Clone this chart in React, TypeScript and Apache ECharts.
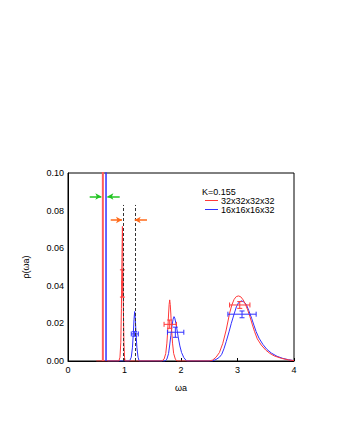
import React, { useEffect, useRef } from "react";
import * as echarts from "echarts";

// tick labels
const xTicks = [0, 1, 2, 3, 4];
const yTicks = [0, 0.02, 0.04, 0.06, 0.08, 0.1];

// legend names
const redName = "32x32x32x32";
const blueName = "16x16x16x32";
const kLabel = "K=0.155";

// spectral function, 32x32x32x32 (red)
const redCurve: [number, number][] = [
  [0.5, 0], [0.9, 0], [0.92, 0.002], [0.935, 0.01], [0.945, 0.028], [0.955, 0.055], [0.963, 0.0716],
  [0.971, 0.055], [0.98, 0.028], [0.99, 0.01], [1.0, 0.002], [1.01, 0],
  [1.66, 0], [1.7, 0.001], [1.73, 0.004], [1.75, 0.0095], [1.765, 0.016], [1.78, 0.025], [1.79, 0.03],
  [1.8, 0.0325], [1.81, 0.03], [1.82, 0.025], [1.835, 0.016], [1.85, 0.0095], [1.87, 0.004], [1.9, 0.001], [1.93, 0],
  [2.5, 0], [2.56, 0.0005], [2.62, 0.002], [2.68, 0.0045], [2.74, 0.0094], [2.8, 0.0165], [2.86, 0.0254],
  [2.9, 0.0298], [2.94, 0.0328], [2.98, 0.0343], [3.02, 0.0346], [3.06, 0.0341], [3.1, 0.0325],
  [3.14, 0.0302], [3.18, 0.0272], [3.22, 0.0236], [3.26, 0.0196], [3.3, 0.0158], [3.35, 0.0118],
  [3.42, 0.0085], [3.5, 0.0058], [3.57, 0.0041], [3.65, 0.0027], [3.78, 0.0014], [3.9, 0.0006], [4.0, 0.0002],
];

// spectral function, 16x16x16x32 (blue)
const blueCurve: [number, number][] = [
  [0.7, 0], [1.09, 0], [1.12, 0.002], [1.14, 0.007], [1.155, 0.014], [1.168, 0.022], [1.18, 0.0263],
  [1.192, 0.022], [1.205, 0.014], [1.22, 0.007], [1.24, 0.002], [1.26, 0],
  [1.72, 0], [1.75, 0.001], [1.78, 0.004], [1.8, 0.0085], [1.82, 0.0135], [1.84, 0.0185], [1.86, 0.0222],
  [1.876, 0.0236], [1.89, 0.0228], [1.91, 0.02], [1.93, 0.0165], [1.95, 0.0128], [1.98, 0.008],
  [2.01, 0.0045], [2.05, 0.0018], [2.1, 0],
  [2.55, 0], [2.62, 0.0008], [2.68, 0.002], [2.72, 0.0035], [2.76, 0.0065], [2.8, 0.0103], [2.85, 0.0155],
  [2.89, 0.02], [2.94, 0.025], [2.98, 0.0288], [3.02, 0.0311], [3.07, 0.032], [3.12, 0.0313],
  [3.16, 0.0298], [3.2, 0.0268], [3.25, 0.0227], [3.29, 0.0191], [3.33, 0.0156], [3.38, 0.0122],
  [3.45, 0.0088], [3.52, 0.0062], [3.6, 0.0042], [3.7, 0.0025], [3.8, 0.0014], [3.9, 0.0007], [4.0, 0.0002],
];

// delta-function positions (lowest state)
const redDelta = 0.617;
const blueDelta = 0.673;

// error bars: [x, y, xLow, xHigh, yLow, yHigh]
const redErr = [
  [0.963, 0.0414, 0.955, 0.971, 0.034, 0.0485],
  [1.8, 0.0195, 1.7, 1.92, 0.0174, 0.0218],
  [3.04, 0.0298, 2.86, 3.22, 0.028, 0.0316],
];
const blueErr = [
  [1.18, 0.0144, 1.12, 1.245, 0.0132, 0.0156],
  [1.9, 0.0153, 1.76, 2.05, 0.0126, 0.018],
  [3.08, 0.0249, 2.83, 3.33, 0.023, 0.0266],
];

// arrows: [xFrom, xTo, y]
const greenArrows = [
  [0.384, 0.59, 0.0875],
  [0.915, 0.697, 0.0875],
];
const orangeArrows = [
  [0.756, 0.956, 0.075],
  [1.398, 1.18, 0.075],
];

// dashed markers: x positions, top
const dashedX = [0.973, 1.19];
const dashedTop = 0.083;

const RED = "#ff3838";
const BLUE = "#3030ff";
const GREEN = "#22c422";
const ORANGE = "#ff6a1a";
const FONT = "Liberation Sans, Arial, sans-serif";

function errRender(color: string) {
  return (params: any, api: any) => {
    const y = api.value(1);
    const x = api.value(0);
    const pl = api.coord([api.value(2), y]);
    const pr = api.coord([api.value(3), y]);
    const pb = api.coord([x, api.value(4)]);
    const pt = api.coord([x, api.value(5)]);
    const cap = 2.5;
    const style = { stroke: color, lineWidth: 1 };
    const mk = (x1: number, y1: number, x2: number, y2: number) => ({
      type: "line",
      shape: { x1, y1, x2, y2 },
      style,
    });
    return {
      type: "group",
      children: [
        mk(pl[0], pl[1], pr[0], pr[1]),
        mk(pl[0], pl[1] - cap, pl[0], pl[1] + cap),
        mk(pr[0], pr[1] - cap, pr[0], pr[1] + cap),
        mk(pb[0], pb[1], pt[0], pt[1]),
        mk(pb[0] - cap, pb[1], pb[0] + cap, pb[1]),
        mk(pt[0] - cap, pt[1], pt[0] + cap, pt[1]),
      ],
    };
  };
}

function arrowLines(list: number[][], color: string) {
  return {
    silent: true,
    symbol: ["none", "arrow"],
    symbolSize: [5, 6],
    lineStyle: { color, width: 1.5, type: "solid" },
    label: { show: false },
    data: list.map((a) => [{ coord: [a[0], a[2]] }, { coord: [a[1], a[2]] }]),
  };
}

const LEGEND_ICON = "path://M0,4.5 L13,4.5 L13,5.5 L0,5.5 Z";

export default function App() {
  const ref = useRef<HTMLDivElement>(null);
  useEffect(() => {
    if (!ref.current) return;
    const chart = echarts.init(ref.current, null, { renderer: "svg" });
    chart.setOption({
      animation: false,
      backgroundColor: "#fff",
      textStyle: { fontFamily: FONT },
      title: {
        text: kLabel,
        left: 202,
        top: 187,
        padding: 0,
        textStyle: { fontSize: 9, fontWeight: "normal", color: "#000", fontFamily: FONT },
      },
      legend: {
        data: [
          { name: redName, icon: LEGEND_ICON, itemStyle: { color: RED, borderWidth: 0 } },
          { name: blueName, icon: LEGEND_ICON, itemStyle: { color: BLUE, borderWidth: 0 } },
        ],
        left: 205,
        top: 196,
        orient: "vertical",
        padding: 0,
        itemGap: 0,
        itemWidth: 13,
        itemHeight: 9,
        textStyle: { fontSize: 9, color: "#000", fontFamily: FONT, padding: [0, 0, 0, -2] },
      },
      grid: {
        left: 68,
        top: 173,
        width: 226,
        height: 188,
        show: true,
        borderColor: "#000",
        borderWidth: 1,
        backgroundColor: "transparent",
      },
      xAxis: {
        type: "value",
        min: xTicks[0],
        max: xTicks[xTicks.length - 1],
        interval: 1,
        name: "ωa",
        nameLocation: "middle",
        nameGap: 22,
        nameTextStyle: { fontSize: 9, color: "#000", fontFamily: FONT },
        axisLine: { show: true, lineStyle: { color: "#000", width: 1 } },
        axisTick: { show: true, inside: true, length: 3, lineStyle: { color: "#000" } },
        axisLabel: { fontSize: 9, color: "#000", margin: 4, fontFamily: FONT },
        splitLine: { show: false },
      },
      yAxis: {
        type: "value",
        min: yTicks[0],
        max: yTicks[yTicks.length - 1],
        interval: 0.02,
        name: "ρ(ωa)",
        nameLocation: "middle",
        nameGap: 38,
        nameRotate: 90,
        nameTextStyle: { fontSize: 9, color: "#000", fontFamily: FONT },
        axisLine: { show: true, lineStyle: { color: "#000", width: 1 } },
        axisTick: { show: false },
        axisLabel: {
          fontSize: 9,
          color: "#000",
          margin: 4,
          fontFamily: FONT,
          formatter: (v: number) => v.toFixed(2),
        },
        splitLine: { show: false },
      },
      series: [
        {
          name: "dashed",
          type: "line",
          data: [],
          markLine: {
            silent: true,
            symbol: ["none", "none"],
            lineStyle: { color: "#333", width: 1, type: [3, 2] },
            label: { show: false },
            data: dashedX.map((x) => [{ coord: [x, 0] }, { coord: [x, dashedTop] }]),
          },
        },
        {
          name: redName,
          type: "line",
          data: redCurve,
          showSymbol: false,
          symbol: "none",
          smooth: false,
          clip: true,
          lineStyle: { color: RED, width: 1 },
          itemStyle: { color: RED },
          z: 3,
        },
        {
          name: blueName,
          type: "line",
          data: blueCurve,
          showSymbol: false,
          symbol: "none",
          smooth: false,
          clip: true,
          lineStyle: { color: BLUE, width: 1 },
          itemStyle: { color: BLUE },
          z: 2,
        },
        {
          name: "redDelta",
          type: "line",
          data: [[redDelta, 0], [redDelta, 0.2]],
          symbol: "none",
          clip: true,
          lineStyle: { color: "#ff5a5a", width: 2 },
          z: 3,
        },
        {
          name: "blueDelta",
          type: "line",
          data: [[blueDelta, 0], [blueDelta, 0.2]],
          symbol: "none",
          clip: true,
          lineStyle: { color: BLUE, width: 1.5 },
          z: 3,
        },
        {
          name: "redErr",
          type: "custom",
          data: redErr,
          renderItem: errRender(RED),
          z: 4,
        },
        {
          name: "blueErr",
          type: "custom",
          data: blueErr,
          renderItem: errRender(BLUE),
          z: 4,
        },
        {
          name: "greenArrows",
          type: "line",
          data: [],
          markLine: arrowLines(greenArrows, GREEN),
        },
        {
          name: "orangeArrows",
          type: "line",
          data: [],
          markLine: arrowLines(orangeArrows, ORANGE),
        },
      ],
    });
    return () => chart.dispose();
  }, []);
  return (
    <div
      ref={ref}
      style={{ position: "absolute", left: 0, top: 0, width: 340, height: 440 }}
    />
  );
}
